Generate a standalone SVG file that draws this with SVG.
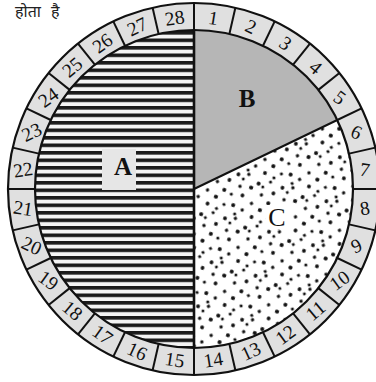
<svg xmlns="http://www.w3.org/2000/svg" width="376" height="382" viewBox="0 0 376 382">
<style>
.num{font-family:"Liberation Serif","DejaVu Serif",serif;font-size:19.5px;fill:#111;text-anchor:middle;dominant-baseline:central}
.lbl{font-family:"Liberation Serif","DejaVu Serif",serif;fill:#111;text-anchor:middle}
.div{stroke:#111;stroke-width:2}
.edge{fill:none;stroke:#111;stroke-width:2.2}
</style>
<defs>
<pattern id="stripes" patternUnits="userSpaceOnUse" x="0" y="1" width="20" height="7.5">
<rect width="20" height="7.5" fill="#f4f4f4"/>
<rect y="0" width="20" height="3.6" fill="#1a1a1a"/>
</pattern>
<pattern id="dots" patternUnits="userSpaceOnUse" width="46" height="46" patternTransform="rotate(17)">
<rect width="46" height="46" fill="#fff"/>
<g fill="#111">
<circle cx="3" cy="5" r="1.9"/><circle cx="13" cy="2" r="1.7"/><circle cx="25" cy="8" r="2"/><circle cx="36" cy="3" r="1.6"/>
<circle cx="42" cy="13" r="1.9"/><circle cx="8" cy="16" r="1.7"/><circle cx="19" cy="14" r="2.1"/><circle cx="31" cy="18" r="1.7"/>
<circle cx="40" cy="24" r="2"/><circle cx="2" cy="26" r="1.6"/><circle cx="13" cy="24" r="1.9"/><circle cx="24" cy="29" r="1.7"/>
<circle cx="34" cy="33" r="2.1"/><circle cx="44" cy="38" r="1.6"/><circle cx="7" cy="36" r="2"/><circle cx="17" cy="38" r="1.7"/>
<circle cx="28" cy="42" r="1.9"/><circle cx="38" cy="44" r="1.6"/><circle cx="11" cy="44" r="1.6"/><circle cx="30" cy="10" r="1.5"/>
<circle cx="9" cy="8" r="1.5"/>
</g>
</pattern>
</defs>
<rect width="376" height="382" fill="#fff"/>
<text x="15" y="17" style="font-family:'Noto Sans','Noto Serif','DejaVu Sans',sans-serif;font-size:16px;fill:#222;word-spacing:6px">होता है</text>

<g id="ring">
<circle cx="194" cy="189" r="186" fill="#e0e0e0" stroke="#111" stroke-width="2.2"/>
</g>
<g id="sector-A">
<path d="M194,189 L194,30 A159,159 0 0 0 194,348 Z" fill="url(#stripes)"/>
<rect x="102" y="149" width="34" height="41" fill="#e6e6e6"/>
<text class="lbl" x="123" y="175" font-size="25" font-weight="bold">A</text>
</g>
<g id="sector-B">
<path d="M194,189 L194,30 A159,159 0 0 1 337.26,120.01 Z" fill="#b6b6b6"/>
<text class="lbl" x="247" y="107" font-size="25" font-weight="bold">B</text>
</g>
<g id="sector-C">
<path d="M194,189 L337.26,120.01 A159,159 0 0 1 194,348 Z" fill="url(#dots)"/>
<rect x="266" y="205" width="23" height="24" fill="#fff"/>
<text class="lbl" x="277" y="226" font-size="26">C</text>
</g>

<g id="connectors">
<circle class="edge" cx="194" cy="189" r="159"/>
<line class="div" x1="194" y1="30" x2="194" y2="348" style="stroke-width:2.6"/>
<line class="div" x1="194" y1="189" x2="337.26" y2="120.01"/>
<g class="div">
<line x1="194" y1="30" x2="194" y2="3" transform="rotate(0 194 189)"/>
<line x1="194" y1="30" x2="194" y2="3" transform="rotate(12.857 194 189)"/>
<line x1="194" y1="30" x2="194" y2="3" transform="rotate(25.714 194 189)"/>
<line x1="194" y1="30" x2="194" y2="3" transform="rotate(38.571 194 189)"/>
<line x1="194" y1="30" x2="194" y2="3" transform="rotate(51.429 194 189)"/>
<line x1="194" y1="30" x2="194" y2="3" transform="rotate(64.286 194 189)"/>
<line x1="194" y1="30" x2="194" y2="3" transform="rotate(77.143 194 189)"/>
<line x1="194" y1="30" x2="194" y2="3" transform="rotate(90 194 189)"/>
<line x1="194" y1="30" x2="194" y2="3" transform="rotate(102.857 194 189)"/>
<line x1="194" y1="30" x2="194" y2="3" transform="rotate(115.714 194 189)"/>
<line x1="194" y1="30" x2="194" y2="3" transform="rotate(128.571 194 189)"/>
<line x1="194" y1="30" x2="194" y2="3" transform="rotate(141.429 194 189)"/>
<line x1="194" y1="30" x2="194" y2="3" transform="rotate(154.286 194 189)"/>
<line x1="194" y1="30" x2="194" y2="3" transform="rotate(167.143 194 189)"/>
<line x1="194" y1="30" x2="194" y2="3" transform="rotate(180 194 189)"/>
<line x1="194" y1="30" x2="194" y2="3" transform="rotate(192.857 194 189)"/>
<line x1="194" y1="30" x2="194" y2="3" transform="rotate(205.714 194 189)"/>
<line x1="194" y1="30" x2="194" y2="3" transform="rotate(218.571 194 189)"/>
<line x1="194" y1="30" x2="194" y2="3" transform="rotate(231.429 194 189)"/>
<line x1="194" y1="30" x2="194" y2="3" transform="rotate(244.286 194 189)"/>
<line x1="194" y1="30" x2="194" y2="3" transform="rotate(257.143 194 189)"/>
<line x1="194" y1="30" x2="194" y2="3" transform="rotate(270 194 189)"/>
<line x1="194" y1="30" x2="194" y2="3" transform="rotate(282.857 194 189)"/>
<line x1="194" y1="30" x2="194" y2="3" transform="rotate(295.714 194 189)"/>
<line x1="194" y1="30" x2="194" y2="3" transform="rotate(308.571 194 189)"/>
<line x1="194" y1="30" x2="194" y2="3" transform="rotate(321.429 194 189)"/>
<line x1="194" y1="30" x2="194" y2="3" transform="rotate(334.286 194 189)"/>
<line x1="194" y1="30" x2="194" y2="3" transform="rotate(347.143 194 189)"/>
</g>
</g>

<g id="numbers">
<g transform="rotate(6.43 194 189)"><text class="num" x="194" y="17" transform="rotate(2.5 194 17)">1</text></g>
<g transform="rotate(19.29 194 189)"><text class="num" x="194" y="17" transform="rotate(5.6 194 17)">2</text></g>
<g transform="rotate(32.14 194 189)"><text class="num" x="194" y="17" transform="rotate(3.9 194 17)">3</text></g>
<g transform="rotate(45 194 189)"><text class="num" x="194" y="17" transform="rotate(-5 194 17)">4</text></g>
<g transform="rotate(57.86 194 189)"><text class="num" x="194" y="17" transform="rotate(-21.9 194 17)">5</text></g>
<g transform="rotate(70.71 194 189)"><text class="num" x="194" y="17" transform="rotate(-45.8 194 17)">6</text></g>
<g transform="rotate(83.57 194 189)"><text class="num" x="194" y="17" transform="rotate(-74.7 194 17)">7</text></g>
<g transform="rotate(96.43 194 189)"><text class="num" x="194" y="17" transform="rotate(-105.3 194 17)">8</text></g>
<g transform="rotate(109.29 194 189)"><text class="num" x="194" y="17" transform="rotate(-134.2 194 17)">9</text></g>
<g transform="rotate(122.14 194 189)"><text class="num" x="194" y="17" transform="rotate(-158.1 194 17)">10</text></g>
<g transform="rotate(135 194 189)"><text class="num" x="194" y="17" transform="rotate(-175 194 17)">11</text></g>
<g transform="rotate(147.86 194 189)"><text class="num" x="194" y="17" transform="rotate(-183.9 194 17)">12</text></g>
<g transform="rotate(160.71 194 189)"><text class="num" x="194" y="17" transform="rotate(-185.6 194 17)">13</text></g>
<g transform="rotate(173.57 194 189)"><text class="num" x="194" y="17" transform="rotate(-182.5 194 17)">14</text></g>
<g transform="rotate(186.43 194 189)"><text class="num" x="194" y="17" transform="rotate(-177.5 194 17)">15</text></g>
<g transform="rotate(199.29 194 189)"><text class="num" x="194" y="17" transform="rotate(-174.4 194 17)">16</text></g>
<g transform="rotate(212.14 194 189)"><text class="num" x="194" y="17" transform="rotate(-176.1 194 17)">17</text></g>
<g transform="rotate(225 194 189)"><text class="num" x="194" y="17" transform="rotate(-185 194 17)">18</text></g>
<g transform="rotate(237.86 194 189)"><text class="num" x="194" y="17" transform="rotate(-201.9 194 17)">19</text></g>
<g transform="rotate(250.71 194 189)"><text class="num" x="194" y="17" transform="rotate(-225.8 194 17)">20</text></g>
<g transform="rotate(263.57 194 189)"><text class="num" x="194" y="17" transform="rotate(-254.7 194 17)">21</text></g>
<g transform="rotate(276.43 194 189)"><text class="num" x="194" y="17" transform="rotate(-285.3 194 17)">22</text></g>
<g transform="rotate(289.29 194 189)"><text class="num" x="194" y="17" transform="rotate(-314.2 194 17)">23</text></g>
<g transform="rotate(302.14 194 189)"><text class="num" x="194" y="17" transform="rotate(-338.1 194 17)">24</text></g>
<g transform="rotate(315 194 189)"><text class="num" x="194" y="17" transform="rotate(-355 194 17)">25</text></g>
<g transform="rotate(327.86 194 189)"><text class="num" x="194" y="17" transform="rotate(-363.9 194 17)">26</text></g>
<g transform="rotate(340.71 194 189)"><text class="num" x="194" y="17" transform="rotate(-365.6 194 17)">27</text></g>
<g transform="rotate(353.57 194 189)"><text class="num" x="194" y="17" transform="rotate(-362.5 194 17)">28</text></g>
</g>
</svg>
